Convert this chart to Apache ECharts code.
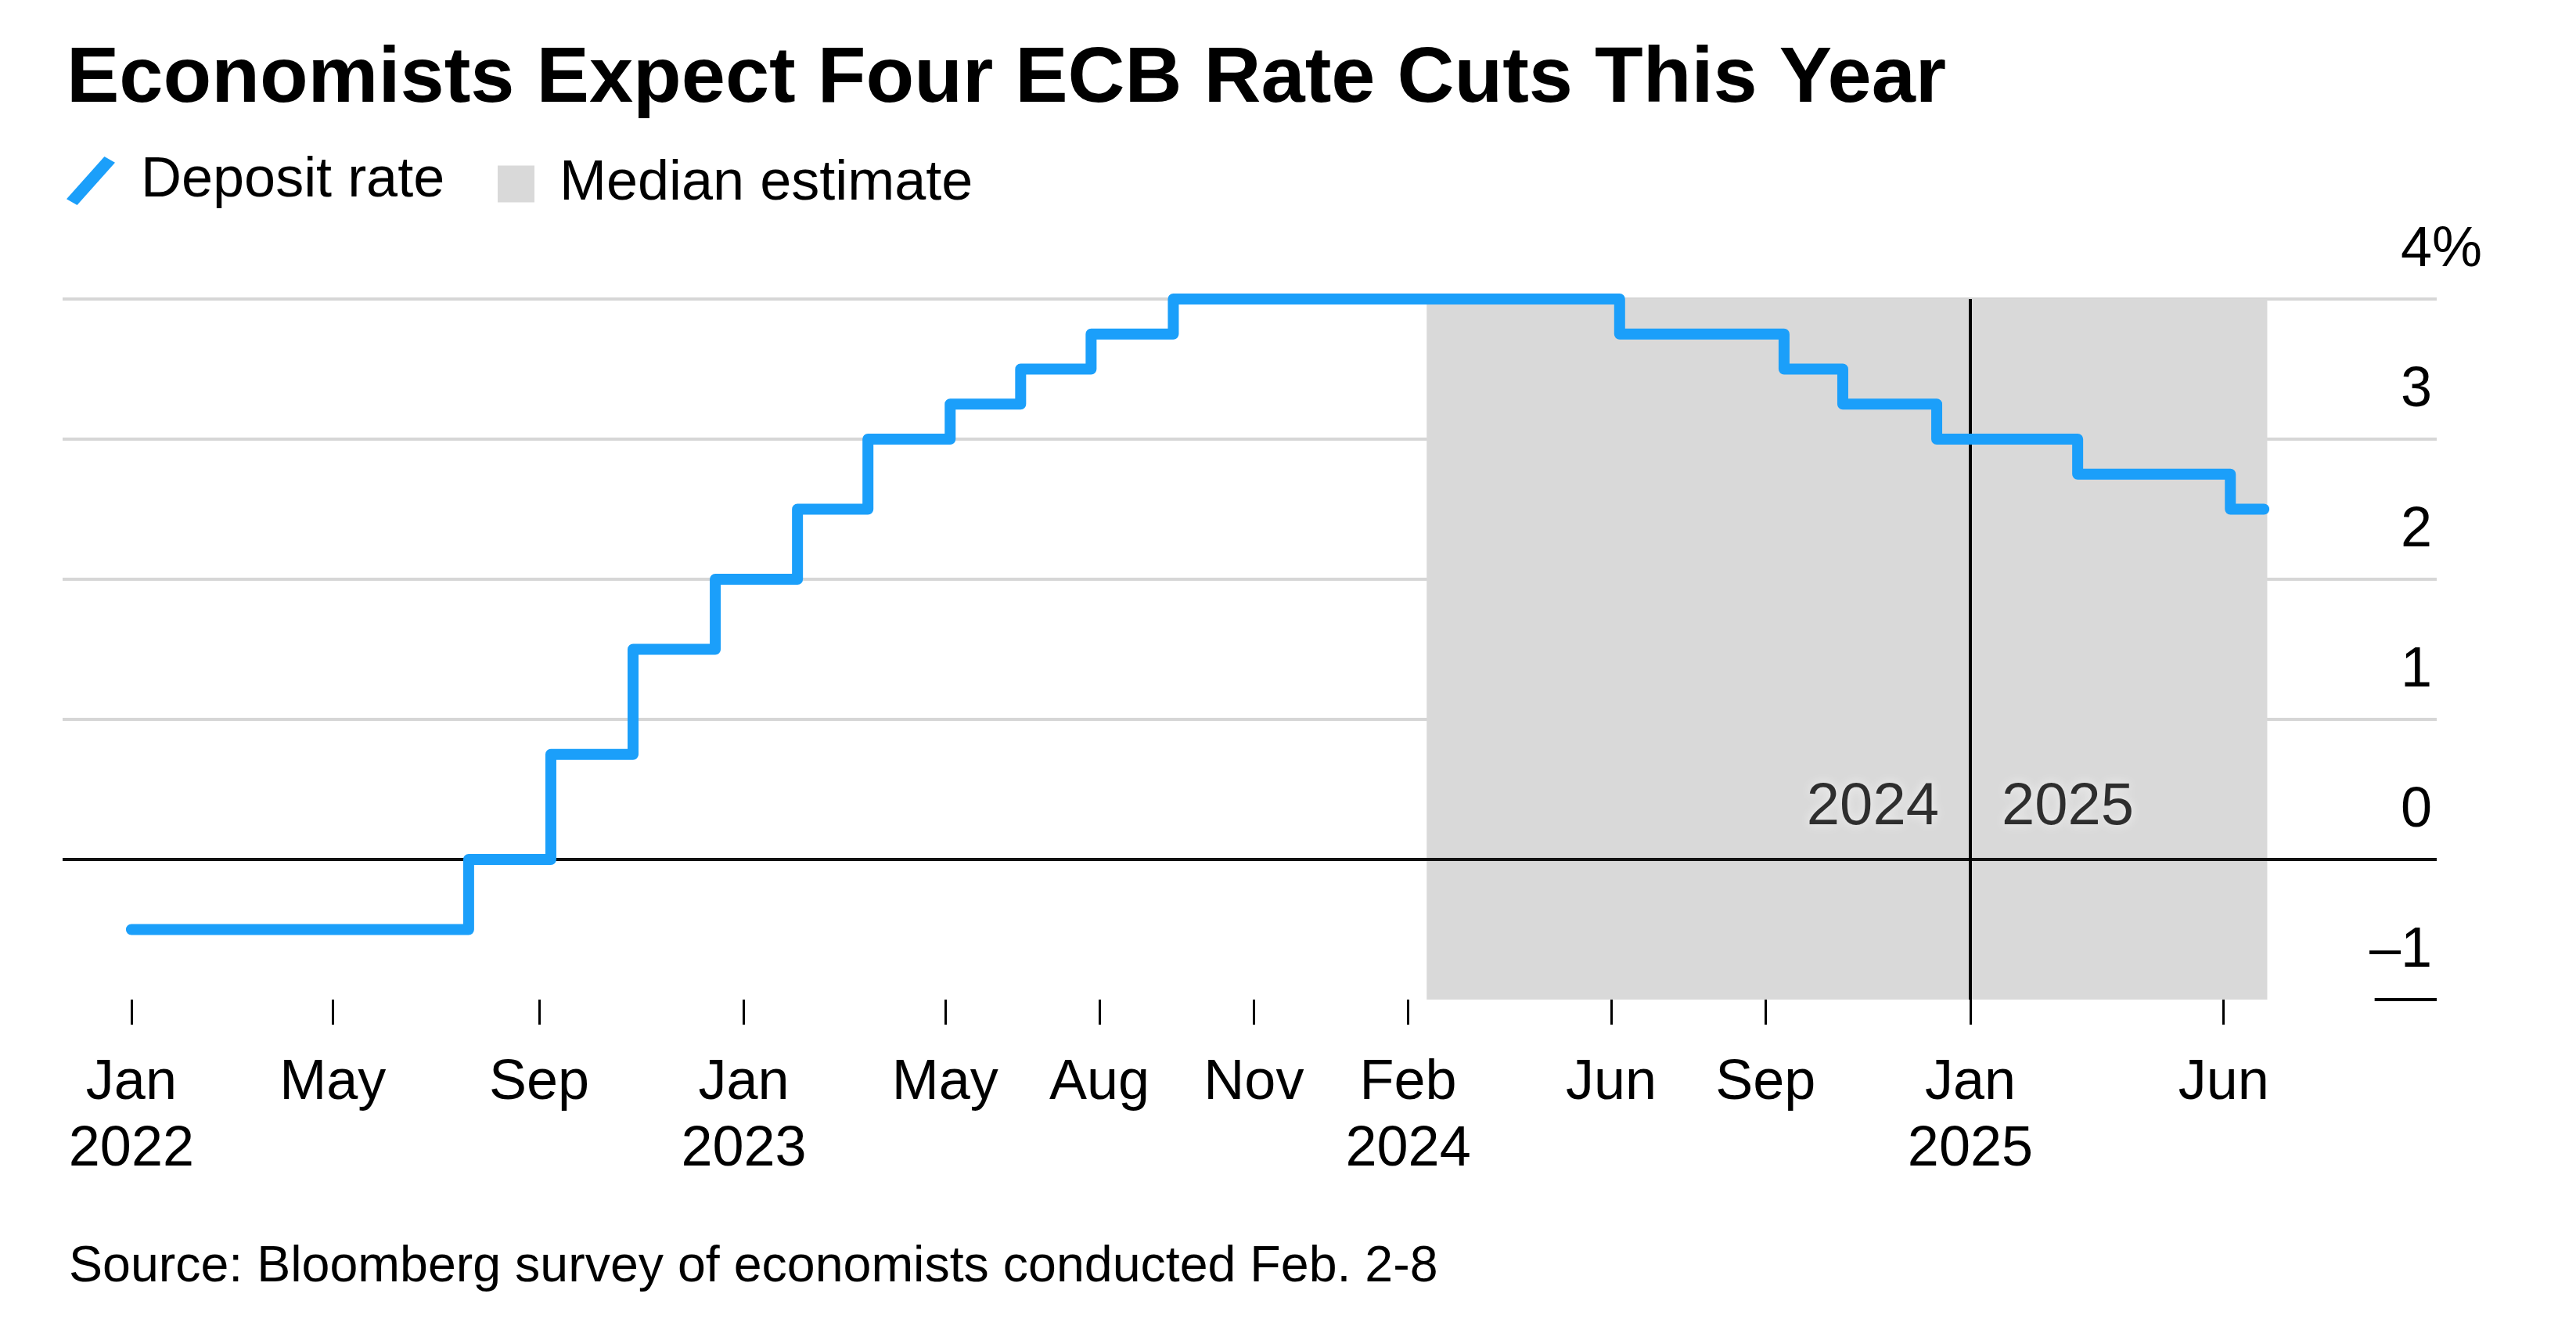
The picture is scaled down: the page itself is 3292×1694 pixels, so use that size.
<!DOCTYPE html>
<html>
<head>
<meta charset="utf-8">
<script src="https://cdn.jsdelivr.net/npm/echarts@6/dist/echarts.min.js"></script>
<style>
  html, body { margin: 0; padding: 0; background: #ffffff; }
  #chart { width: 3292px; height: 1694px; }
</style>
</head>
<body>
<div id="chart"></div>
<script>
// ---- Data ----
const titleText = 'Economists Expect Four ECB Rate Cuts This Year';
const sourceText = 'Source: Bloomberg survey of economists conducted Feb. 2-8';
const seriesNames = ['Deposit rate', 'Median estimate'];

// ECB deposit rate: date of each change and the new level (%), then median path
const rateDates = ['2022-01-01', '2022-07-21', '2022-09-08', '2022-10-27', '2022-12-15',
                   '2023-02-02', '2023-03-16', '2023-05-04', '2023-06-15', '2023-07-27',
                   '2023-09-14', '2024-06-06', '2024-09-12', '2024-10-17', '2024-12-12',
                   '2025-03-06', '2025-06-05', '2025-06-25'];
const rateValues = [-0.5, 0, 0.75, 1.5, 2, 2.5, 3, 3.25, 3.5, 3.75,
                    4, 3.75, 3.5, 3.25, 3, 2.75, 2.5, 2.5];

// Median estimate shaded period
const shadeStart = '2024-02-12';
const shadeEnd = '2025-06-27';

// Year divider
const dividerDate = '2025-01-01';
const dividerLabels = ['2024', '2025'];
const dividerLabelLevel = 0.37;

// X axis ticks / labels
const tickDates = ['2022-01-01', '2022-05-01', '2022-09-01', '2023-01-01', '2023-05-01',
                   '2023-08-01', '2023-11-01', '2024-02-01', '2024-06-01', '2024-09-01',
                   '2025-01-01', '2025-06-01'];
const tickLabels = ['Jan\n2022', 'May', 'Sep', 'Jan\n2023', 'May', 'Aug', 'Nov',
                    'Feb\n2024', 'Jun', 'Sep', 'Jan\n2025', 'Jun'];
const xRange = ['2021-11-21', '2025-10-06'];

// Y axis
const yMin = -1, yMax = 4, yStep = 1;
const yTickLabels = { '-1': '\u20131', '0': '0', '1': '1', '2': '2', '3': '3', '4': '4' };
const yLabelStart = '2025-08-30';

// ---- Helpers ----
const ts = s => new Date(s + 'T00:00:00Z').getTime();
const tickTs = tickDates.map(ts);
const lineData = rateDates.map((d, i) => [ts(d), rateValues[i]]);

const FONT = '"Liberation Sans", Arial, Helvetica, sans-serif';
const BLUE = '#1b9ffa';
const SHADE = '#d9d9d9';

const chart = echarts.init(document.getElementById('chart'), null, { renderer: 'canvas' });

const option = {
  animation: false,
  backgroundColor: '#ffffff',
  textStyle: { fontFamily: FONT },
  title: [
    {
      text: titleText,
      left: 80, top: 47,
      textStyle: { fontFamily: FONT, fontSize: 101, fontWeight: 'bold', color: '#000' }
    },
    {
      text: sourceText,
      left: 83, top: 1582,
      textStyle: { fontFamily: FONT, fontSize: 64.5, fontWeight: 'normal', color: '#000' }
    }
  ],
  legend: [
    {
      data: [{ name: seriesNames[0], icon: 'path://M0,56 L50,0 L64,8 L14,64 Z' }],
      left: 85, top: 195, padding: 0,
      itemWidth: 64, itemHeight: 62,
      selectedMode: false,
      textStyle: { fontFamily: FONT, fontSize: 72, color: '#000', padding: [0, 0, 0, 27] }
    },
    {
      data: [{ name: seriesNames[1], icon: 'rect' }],
      left: 636, top: 199, padding: 0,
      itemWidth: 47, itemHeight: 47,
      selectedMode: false,
      textStyle: { fontFamily: FONT, fontSize: 72, color: '#000', padding: [0, 0, 0, 27] }
    }
  ],
  grid: { left: 80, right: 178, top: 382, bottom: 417, containLabel: false },
  xAxis: {
    type: 'value',
    min: ts(xRange[0]),
    max: ts(xRange[1]),
    axisLine: { show: false, onZero: false },
    splitLine: { show: false },
    axisTick: {
      show: true, inside: false, length: 32,
      customValues: tickTs,
      lineStyle: { color: '#000', width: 3 }
    },
    axisLabel: {
      customValues: tickTs,
      margin: 65,
      fontFamily: FONT, fontSize: 72, lineHeight: 85, color: '#000',
      align: 'center',
      formatter: function (val) {
        let best = 0, bd = Infinity;
        tickTs.forEach((t, i) => { const d = Math.abs(t - val); if (d < bd) { bd = d; best = i; } });
        return tickLabels[best];
      }
    }
  },
  yAxis: {
    type: 'value',
    position: 'right',
    min: yMin, max: yMax, interval: yStep,
    axisLine: { show: false },
    axisTick: { show: false },
    splitLine: {
      show: true,
      lineStyle: {
        color: ['rgba(0,0,0,0)', 'rgba(0,0,0,0)', 'rgba(0,0,0,0.16)', 'rgba(0,0,0,0.16)',
                'rgba(0,0,0,0.16)', 'rgba(0,0,0,0.16)'],
        width: 4
      }
    },
    axisLabel: {
      inside: true,
      margin: -58,
      verticalAlign: 'bottom',
      padding: [0, 0, 26, 0],
      formatter: function (v) {
        const s = yTickLabels[String(v)];
        return v === yMax ? '{n|' + s + '}{p|%}' : '{n|' + s + '}{p| }';
      },
      rich: {
        n: { fontFamily: FONT, fontSize: 72, lineHeight: 72, color: '#000' },
        p: { fontFamily: FONT, fontSize: 72, lineHeight: 72, color: '#000', width: 64, align: 'left' }
      }
    }
  },
  series: [
    {
      name: seriesNames[1],
      type: 'line',
      data: [],
      color: SHADE,
      itemStyle: { color: SHADE },
      z: -1,
      silent: true,
      markArea: {
        silent: true,
        itemStyle: { color: SHADE },
        data: [[{ xAxis: ts(shadeStart), yAxis: yMin }, { xAxis: ts(shadeEnd), yAxis: yMax }]]
      }
    },
    {
      name: 'refLines',
      type: 'line',
      data: [],
      z: 4,
      silent: true,
      markLine: {
        silent: true,
        symbol: ['none', 'none'],
        label: { show: false },
        data: [
          { yAxis: 0, lineStyle: { color: '#111', width: 4, type: 'solid' } },
          [{ coord: [ts(yLabelStart), yMin] }, { coord: [ts(xRange[1]), yMin] }],
          [{ coord: [ts(dividerDate), yMin] }, { coord: [ts(dividerDate), yMax] }]
        ],
        lineStyle: { color: '#000', width: 4, type: 'solid' }
      }
    },
    {
      name: 'yearLabels',
      type: 'scatter',
      symbolSize: 0,
      z: 6,
      silent: true,
      data: [
        { value: [ts(dividerDate), dividerLabelLevel], label: { position: 'left', formatter: dividerLabels[0] } },
        { value: [ts(dividerDate), dividerLabelLevel], label: { position: 'right', formatter: dividerLabels[1] } }
      ],
      label: {
        show: true,
        distance: 40,
        fontFamily: FONT, fontSize: 76, color: '#000000',
        textShadowColor: '#ffffff', textShadowBlur: 14
      }
    },
    {
      name: seriesNames[0],
      type: 'line',
      step: 'end',
      data: lineData,
      color: BLUE,
      itemStyle: { color: BLUE },
      showSymbol: false,
      symbol: 'none',
      z: 10,
      lineStyle: { color: BLUE, width: 14, cap: 'round', join: 'round' }
    }
  ]
};

chart.setOption(option);
</script>
</body>
</html>
